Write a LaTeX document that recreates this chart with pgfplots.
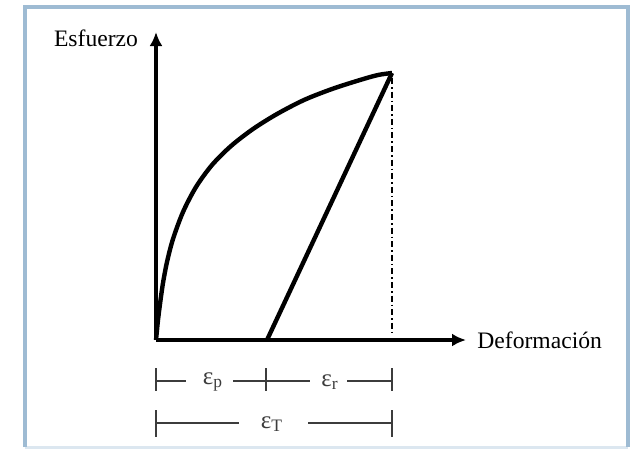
\documentclass[border=0pt]{standalone}
\usepackage{fontspec}
\setmainfont{Liberation Serif}
\usepackage{pgfplots}
\pgfplotsset{compat=1.18}
\usetikzlibrary{arrows.meta}

\definecolor{framec}{RGB}{158,187,211}
\definecolor{framel}{RGB}{220,231,240}
\definecolor{dimc}{RGB}{60,60,60}

\begin{document}
\begin{tikzpicture}
\begin{axis}[
    scale only axis,
    width=155pt, height=154pt,
    xmin=0, xmax=310, ymin=0, ymax=308,
    axis lines*=left,
    axis line style={line width=1.6pt, -{Latex[length=7pt,width=6.5pt]}},
    xtick=\empty, ytick=\empty,
    clip=false,
    font=\fontsize{11.8}{14}\selectfont,
  ]
  % frame round the picture
  \path (axis cs:-156,-111) rectangle (axis cs:484,340);
  \draw[framel, line width=1.5pt] (axis cs:-131,-107) -- (axis cs:472,-107);
  \draw[framec, line width=1.6pt] (axis cs:-131,-107) -- (axis cs:-131,333)
      -- (axis cs:472,333) -- (axis cs:472,-107);

  % loading curve
  \addplot[black, line width=2.2pt, smooth, line join=round] coordinates {
    (0,0) (1,10) (2,20) (4,36) (7,57) (11,78) (17,101) (27,128) (40,153)
    (56,175) (75,194) (97,211) (121,226) (148,240) (176,251) (204,260)
    (222,265) (236,267)
  };
  % unloading line
  \addplot[black, line width=2.2pt, line join=round] coordinates {
    (236,267) (111,0)
  };
  % vertical dash-dot
  \addplot[black, line width=1.2pt,
    dash pattern=on 3pt off 1.5pt on 0.8pt off 1.5pt] coordinates {
    (236,262) (236,7)
  };

  \node[anchor=center] at (axis cs:-60,302) {Esfuerzo};
  \node[anchor=west, inner sep=0pt] at (axis cs:321,0) {Deformación};

  % dimension lines
  \begin{scope}[dimc, line width=0.75pt]
    \draw (axis cs:0,-28) -- (axis cs:0,-51);
    \draw (axis cs:110,-28) -- (axis cs:110,-51);
    \draw (axis cs:236,-28) -- (axis cs:236,-51);
    \draw (axis cs:0,-41) -- (axis cs:30,-41);
    \draw (axis cs:77,-41) -- (axis cs:154,-41);
    \draw (axis cs:191,-41) -- (axis cs:236,-41);
    \draw (axis cs:0,-70) -- (axis cs:0,-97);
    \draw (axis cs:236,-70) -- (axis cs:236,-97);
    \draw (axis cs:0,-83) -- (axis cs:83,-83);
    \draw (axis cs:152,-83) -- (axis cs:236,-83);
  \end{scope}
  \begin{scope}[every node/.style={dimc, font=\fontsize{12.5}{14}\selectfont}]
    \node at (axis cs:57,-42) {ε\textsubscript{p}};
    \node at (axis cs:174,-42) {ε\textsubscript{r}};
    \node at (axis cs:116,-84) {ε\textsubscript{T}};
  \end{scope}
\end{axis}
\end{tikzpicture}
\end{document}
